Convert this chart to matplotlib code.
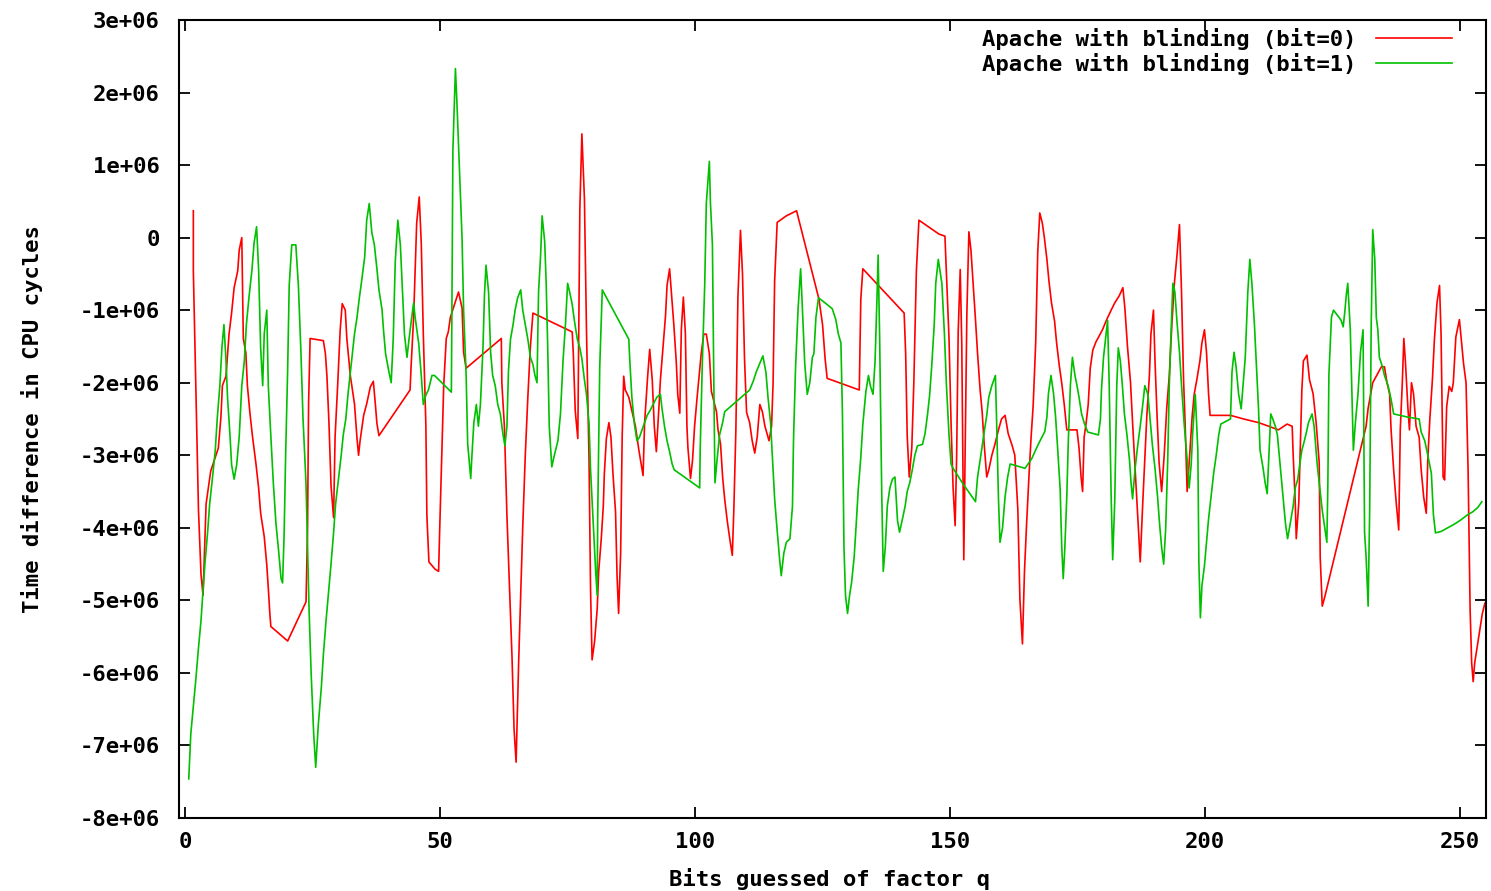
import numpy as np
import matplotlib
matplotlib.use("Agg")
import matplotlib.pyplot as plt
from matplotlib.ticker import FuncFormatter, MultipleLocator

# Bit index, values in units of 1e6 CPU cycles
red_x = [1.6, 1.6, 2.1, 2.6, 3.1, 3.5, 4.1, 5.0, 6.5, 7.0, 7.3, 8.0, 8.6, 9.1, 9.6,
         10.3, 10.6, 11.1, 11.4, 11.9, 12.2, 12.7, 13.2, 13.9, 14.4, 14.8, 15.5, 16.0,
         16.3, 16.6, 16.8, 20.1, 23.7, 24.0, 24.2, 24.5, 27.1, 27.5, 27.8, 28.2, 28.6,
         29.1, 29.4, 29.9, 30.4, 30.8, 31.4, 31.7, 32.4, 33.2, 33.7, 34.0, 34.3, 35.0,
         35.6, 36.3, 36.9, 37.3, 37.6, 38.0, 44.1, 44.3, 44.8, 45.1, 45.4, 45.9, 46.3,
         46.7, 47.2, 47.4, 47.8, 49.0, 49.7, 49.9, 50.3, 50.7, 51.2, 51.6, 52.0, 53.6,
         54.3, 54.6, 55.1, 62.0, 62.1, 62.6, 63.1, 63.6, 64.1, 64.5, 64.9, 65.4, 65.8,
         66.2, 66.7, 67.2, 67.7, 68.2, 75.9, 76.1, 76.5, 77.0, 77.4, 77.8, 78.3, 78.7,
         79.2, 79.5, 79.8, 80.3, 80.8, 81.1, 81.6, 82.0, 82.2, 82.6, 83.1, 83.5, 83.9,
         84.4, 84.7, 85.0, 85.4, 85.7, 86.0, 86.3, 87.0, 88.3, 89.0, 89.8, 90.1, 90.7,
         91.1, 91.6, 92.0, 92.4, 92.9, 93.2, 93.7, 94.2, 94.5, 95.0, 95.8, 96.3, 96.6,
         97.0, 97.3, 97.7, 98.1, 98.4, 98.6, 99.1, 99.5, 99.9, 100.4, 100.8, 101.2,
         101.7, 102.2, 102.8, 103.2, 104.2, 104.5, 105.0, 105.4, 105.8, 106.3, 106.8,
         107.3, 107.6, 108.0, 108.4, 108.9, 109.3, 109.7, 110.1, 110.7, 111.2, 111.7,
         112.2, 112.7, 113.2, 113.7, 114.5, 115.0, 115.3, 115.6, 116.1, 117.9, 119.9,
         124.3, 125.0, 125.5, 125.9, 132.2, 132.5, 132.9, 141.0, 141.3, 141.6, 142.0,
         142.5, 142.9, 143.4, 143.9, 147.8, 149.0, 149.3, 149.8, 150.2, 150.6, 151.0,
         151.3, 151.6, 152.0, 152.3, 152.7, 153.3, 153.7, 154.1, 154.6, 155.0, 155.4,
         155.9, 156.3, 156.7, 157.2, 157.6, 158.2, 158.8, 159.5, 160.1, 160.8, 161.4,
         162.2, 162.7, 163.3, 163.7, 164.2, 164.6, 165.0, 165.5, 165.9, 166.3, 166.8,
         167.2, 167.6, 168.1, 168.5, 169.0, 169.4, 169.9, 170.5, 170.9, 171.4, 171.9,
         172.4, 172.9, 174.9, 175.3, 175.7, 176.0, 176.3, 176.7, 177.1, 177.5, 178.0,
         178.6, 179.9, 180.6, 181.6, 182.3, 183.2, 183.9, 184.3, 184.8, 185.4, 185.8,
         186.3, 186.7, 187.1, 187.3, 187.8, 188.2, 188.6, 189.1, 189.4, 189.9, 190.2,
         190.6, 191.0, 191.5, 192.0, 192.5, 193.0, 193.5, 194.0, 194.5, 195.0, 195.4,
         195.8, 196.1, 196.5, 196.9, 197.5, 197.9, 198.4, 199.0, 199.4, 199.9, 200.3,
         200.7, 201.0, 205.0, 207.6, 210.5, 212.5, 214.4, 216.1, 217.1, 217.3, 217.7,
         217.9, 218.4, 218.7, 219.0, 219.3, 220.0, 220.5, 221.2, 221.8, 222.4, 222.6,
         223.0, 223.5, 231.6, 232.0, 232.9, 234.6, 235.2, 235.7, 236.2, 236.5, 237.0,
         237.5, 238.0, 238.3, 238.7, 239.0, 239.3, 239.8, 240.1, 240.5, 240.9, 241.4,
         242.0, 242.4, 242.9, 243.4, 243.7, 244.1, 244.6, 245.0, 245.5, 246.0, 246.3,
         246.7, 247.0, 247.4, 247.9, 248.4, 248.7, 249.2, 249.9, 250.7, 251.2, 251.6,
         252.0, 252.3, 252.6, 252.9, 253.9, 254.4, 254.9]
red_y = [0.37, -0.46, -2.08, -3.74, -4.64, -4.93, -3.67, -3.22, -2.9, -2.48, -2.04,
         -1.91, -1.33, -1.04, -0.69, -0.46, -0.17, 0.0, -1.39, -1.59, -2.04, -2.42, -2.74,
         -3.13, -3.45, -3.8, -4.12, -4.51, -4.83, -5.18, -5.36, -5.56, -5.02, -4.0, -2.29,
         -1.39, -1.42, -1.6, -1.91, -2.56, -3.42, -3.86, -2.74, -2.04, -1.27, -0.91, -1.0,
         -1.39, -1.91, -2.29, -2.77, -3.0, -2.8, -2.45, -2.29, -2.06, -1.98, -2.3, -2.56,
         -2.73, -2.1, -1.78, -1.1, -0.43, 0.2, 0.56, -0.08, -1.33, -2.58, -3.83, -4.47,
         -4.57, -4.6, -4.06, -3.04, -2.04, -1.39, -1.3, -1.1, -0.75, -0.97, -1.58, -1.8,
         -1.39, -2.0, -2.6, -3.83, -4.8, -5.79, -6.78, -7.23, -5.85, -4.9, -3.99, -3.0,
         -2.2, -1.5, -1.04, -1.3, -1.57, -2.39, -2.77, 0.4, 1.43, 0.53, -1.27, -3.06,
         -4.86, -5.82, -5.56, -5.12, -4.6, -4.15, -3.7, -3.26, -2.77, -2.55, -2.75, -3.26,
         -3.78, -4.67, -5.18, -4.35, -2.75, -1.91, -2.1, -2.2, -2.6, -2.94, -3.28, -2.55,
         -1.91, -1.54, -1.96, -2.6, -2.95, -2.35, -1.96, -1.52, -1.08, -0.66, -0.43, -1.17,
         -1.7, -2.16, -2.42, -1.27, -0.82, -1.33, -2.6, -2.9, -3.32, -3.07, -2.6, -2.2,
         -1.9, -1.6, -1.33, -1.33, -1.6, -2.12, -2.4, -2.65, -2.85, -3.3, -3.6, -3.9,
         -4.15, -4.38, -3.75, -2.65, -0.82, 0.1, -0.5, -1.68, -2.41, -2.55, -2.8, -2.97,
         -2.74, -2.3, -2.4, -2.6, -2.8, -2.6, -2.0, -0.6, 0.21, 0.3, 0.37, -0.85, -1.2,
         -1.67, -1.94, -2.1, -0.85, -0.43, -1.04, -1.6, -2.73, -3.3, -2.9, -2.0, -0.46,
         0.24, 0.05, 0.02, -0.5, -1.39, -2.55, -3.45, -3.97, -3.0, -1.3, -0.44, -1.45,
         -4.44, -1.05, 0.08, -0.17, -0.7, -1.14, -1.6, -2.1, -2.4, -2.85, -3.3, -3.2,
         -3.0, -2.85, -2.65, -2.5, -2.45, -2.7, -2.87, -3.0, -3.75, -4.98, -5.6, -4.6,
         -3.97, -3.26, -2.75, -2.32, -1.45, -0.2, 0.34, 0.2, 0.0, -0.3, -0.6, -0.9, -1.15,
         -1.45, -1.75, -2.0, -2.3, -2.65, -2.65, -2.9, -3.3, -3.5, -2.75, -2.55, -2.3,
         -1.8, -1.55, -1.44, -1.27, -1.15, -1.0, -0.9, -0.8, -0.69, -0.98, -1.5, -2.0,
         -2.55, -3.2, -3.7, -4.2, -4.47, -3.65, -3.05, -2.45, -1.9, -1.33, -1.0, -1.7,
         -2.45, -3.1, -3.5, -3.0, -2.35, -1.9, -1.2, -0.63, -0.25, 0.18, -0.75, -1.96,
         -2.55, -3.5, -3.1, -2.45, -2.15, -1.96, -1.7, -1.45, -1.27, -1.58, -2.15, -2.45,
         -2.45, -2.5, -2.55, -2.6, -2.65, -2.57, -2.6, -3.0, -3.65, -4.15, -3.65, -2.85,
         -2.1, -1.7, -1.62, -1.96, -2.15, -2.55, -3.1, -4.41, -5.08, -4.95, -2.6, -2.35,
         -2.0, -1.78, -1.78, -2.0, -2.15, -2.65, -3.2, -3.65, -4.03, -2.65, -2.0, -1.39,
         -1.7, -2.35, -2.65, -2.0, -2.15, -2.6, -2.75, -3.2, -3.58, -3.8, -3.05, -2.5,
         -1.96, -1.4, -0.9, -0.66, -1.33, -3.3, -3.34, -2.33, -2.05, -2.12, -2.0, -1.37,
         -1.13, -1.73, -2.0, -3.2, -5.13, -5.86, -6.12, -5.86, -5.4, -5.18, -5.04]

green_x = [0.7, 1.1, 1.6, 2.1, 2.6, 3.1, 3.5, 3.9, 4.4, 4.8, 5.4, 5.9, 6.3, 6.8, 7.2,
           7.6, 8.0, 8.3, 8.8, 9.1, 9.6, 10.1, 10.6, 11.1, 11.6, 12.0, 12.5, 13.1, 13.5,
           14.0, 14.4, 14.8, 15.2, 15.5, 16.0, 16.3, 16.8, 17.3, 17.8, 18.3, 18.8, 19.1,
           19.4, 19.7, 20.1, 20.4, 20.9, 21.7, 22.2, 22.7, 23.1, 23.7, 24.3, 24.7, 25.2,
           25.6, 26.1, 26.7, 27.1, 27.6, 28.1, 28.6, 29.1, 29.5, 30.1, 30.6, 31.0, 31.5,
           31.9, 32.4, 32.8, 33.2, 33.7, 34.1, 34.6, 35.2, 35.6, 36.1, 36.6, 37.1, 37.6,
           38.0, 38.6, 38.9, 39.3, 39.9, 40.4, 40.8, 41.2, 41.7, 42.2, 42.6, 43.0, 43.5,
           43.9, 44.3, 44.8, 45.1, 45.8, 46.3, 46.7, 47.2, 47.7, 48.4, 48.9, 52.2, 52.3,
           52.5, 53.0, 53.3, 53.8, 54.3, 54.6, 55.1, 55.4, 56.0, 56.2, 56.6, 57.1, 57.5,
           57.9, 58.4, 58.7, 59.0, 59.5, 59.9, 60.3, 60.8, 61.3, 61.8, 62.3, 62.7, 63.1,
           63.4, 63.8, 64.3, 64.7, 65.2, 65.8, 66.2, 66.7, 67.2, 67.7, 68.2, 68.6, 69.0,
           69.3, 69.7, 70.0, 70.5, 70.8, 71.1, 71.4, 71.9, 72.4, 73.1, 73.6, 74.1, 74.6,
           75.0, 75.4, 75.9, 76.3, 76.9, 77.4, 77.8, 78.3, 78.7, 79.2, 79.5, 80.0, 80.5,
           80.8, 80.9, 81.3, 81.8, 87.0, 87.2, 87.6, 88.1, 88.6, 89.1, 89.6, 90.1, 90.6,
           91.2, 91.9, 92.5, 93.2, 93.5, 94.0, 94.5, 95.0, 95.5, 95.9, 100.9, 101.0, 101.4,
           101.9, 102.2, 102.8, 103.0, 103.4, 103.7, 103.9, 104.3, 104.8, 105.4, 105.8,
           110.7, 111.4, 112.0, 112.7, 113.3, 113.9, 114.3, 114.8, 115.2, 115.6, 116.1,
           116.6, 116.9, 117.4, 117.9, 118.6, 119.1, 119.3, 119.7, 120.2, 120.7, 121.0,
           121.5, 122.0, 122.5, 123.0, 123.3, 123.7, 124.2, 125.5, 126.9, 127.6, 128.1,
           128.6, 128.9, 129.2, 129.5, 129.9, 130.3, 130.7, 131.2, 131.6, 132.0, 132.5,
           132.9, 133.5, 134.0, 134.4, 134.9, 135.3, 135.7, 135.9, 136.2, 136.6, 136.9,
           137.3, 137.7, 138.2, 138.7, 139.2, 139.7, 140.1, 140.6, 141.2, 141.6, 142.1,
           142.6, 143.1, 143.6, 144.6, 145.1, 145.6, 146.0, 146.4, 146.9, 147.2, 147.7,
           148.4, 148.9, 149.3, 149.8, 150.2, 150.6, 152.6, 155.0, 155.4, 155.9, 156.3,
           156.7, 157.2, 157.6, 158.2, 158.9, 159.1, 159.5, 159.8, 160.3, 160.8, 161.3,
           161.8, 164.7, 166.0, 167.3, 168.6, 169.0, 169.3, 169.8, 170.3, 170.7, 171.1,
           171.6, 171.9, 172.2, 172.5, 172.9, 173.2, 173.6, 174.0, 174.5, 174.9, 175.3,
           175.8, 176.3, 177.0, 179.1, 179.5, 179.7, 180.1, 180.6, 180.9, 181.2, 181.6,
           181.9, 182.3, 182.7, 183.0, 183.4, 183.8, 184.2, 184.7, 185.2, 185.5, 185.8,
           186.3, 186.8, 187.3, 187.8, 188.2, 188.8, 189.3, 189.7, 190.2, 190.7, 191.1,
           191.5, 191.9, 192.3, 192.7, 193.0, 193.3, 193.7, 194.1, 194.5, 195.0, 195.4,
           195.9, 196.5, 196.9, 197.3, 197.6, 198.1, 198.6, 198.8, 199.1, 199.4, 199.9,
           200.3, 200.7, 201.2, 201.7, 202.2, 202.7, 203.1, 205.0, 205.3, 205.7, 206.1,
           206.6, 207.1, 207.4, 207.9, 208.4, 208.8, 209.2, 209.7, 210.1, 210.5, 210.8,
           211.4, 211.8, 212.2, 212.5, 212.9, 213.3, 213.8, 214.2, 214.8, 215.3, 215.8,
           216.2, 216.7, 217.3, 217.7, 218.2, 218.6, 219.0, 219.5, 219.9, 220.3, 221.0,
           221.4, 222.0, 222.6, 223.0, 223.5, 223.9, 224.1, 224.3, 224.8, 225.2, 226.3,
           226.7, 227.1, 227.4, 227.7, 228.0, 228.5, 228.9, 229.1, 229.5, 230.0, 230.5,
           231.0, 231.3, 231.6, 232.0, 232.3, 232.6, 232.9, 233.3, 233.6, 233.9, 234.2,
           234.8, 235.2, 235.9, 236.5, 237.0, 239.5, 242.0, 242.4, 243.1, 243.7, 244.4,
           244.8, 245.2, 246.3, 247.6, 248.9, 250.2, 251.5, 252.5, 253.5, 254.3]
green_y = [-7.46, -6.84, -6.46, -6.08, -5.66, -5.28, -4.86, -4.47, -4.06, -3.67, -3.28,
           -2.93, -2.48, -2.04, -1.52, -1.2, -1.69, -2.2, -2.74, -3.13, -3.33, -3.13,
           -2.74, -2.04, -1.7, -1.2, -0.83, -0.44, -0.08, 0.15, -0.44, -1.52, -2.04,
           -1.33, -1.0, -2.04, -2.74, -3.4, -3.94, -4.3, -4.7, -4.76, -4.1, -3.0, -1.8,
           -0.66, -0.1, -0.1, -0.66, -1.58, -2.48, -3.4, -5.14, -6.0, -6.84, -7.3, -6.72,
           -6.2, -5.75, -5.3, -4.9, -4.5, -4.07, -3.67, -3.3, -3.0, -2.72, -2.5, -2.18,
           -1.85, -1.6, -1.33, -1.1, -0.86, -0.6, -0.27, 0.24, 0.47, 0.07, -0.1, -0.43,
           -0.72, -0.99, -1.28, -1.6, -1.83, -2.0, -1.4, -0.33, 0.24, -0.1, -0.72, -1.33,
           -1.65, -1.4, -1.17, -0.9, -1.1, -1.46, -1.9, -2.3, -2.17, -2.1, -1.9, -1.9,
           -2.13, -1.1, 1.2, 2.33, 1.85, 0.92, -0.01, -1.0, -1.9, -2.84, -3.32, -3.05,
           -2.56, -2.3, -2.6, -2.3, -1.52, -0.78, -0.38, -0.75, -1.58, -1.9, -2.04, -2.3,
           -2.43, -2.7, -2.87, -2.6, -1.84, -1.4, -1.2, -1.0, -0.83, -0.72, -1.0, -1.2,
           -1.4, -1.65, -1.75, -1.9, -2.0, -0.75, -0.25, 0.3, -0.05, -0.63, -1.52, -2.6,
           -3.16, -3.0, -2.8, -2.43, -1.7, -1.17, -0.63, -0.75, -0.92, -1.13, -1.4, -1.52,
           -1.67, -1.96, -2.16, -2.56, -3.2, -3.9, -4.6, -4.93, -3.85, -1.78, -0.72, -1.4,
           -1.7, -2.2, -2.57, -2.8, -2.75, -2.65, -2.55, -2.45, -2.38, -2.28, -2.2, -2.16,
           -2.35, -2.6, -2.8, -2.95, -3.12, -3.2, -3.45, -2.93, -1.78, -0.62, 0.47, 1.05,
           0.5, -0.1, -2.17, -3.38, -3.07, -2.72, -2.55, -2.4, -2.1, -1.98, -1.85, -1.73,
           -1.63, -1.86, -2.2, -2.55, -3.07, -3.6, -4.04, -4.45, -4.66, -4.35, -4.2, -4.15,
           -3.7, -2.8, -1.8, -0.98, -0.43, -0.9, -1.73, -2.16, -2.0, -1.65, -1.6, -1.1,
           -0.83, -0.9, -0.98, -1.13, -1.33, -1.45, -2.43, -4.27, -4.93, -5.18, -4.93,
           -4.75, -4.4, -3.95, -3.47, -3.03, -2.57, -2.12, -1.9, -2.05, -2.16, -1.7, -0.77,
           -0.24, -1.4, -3.5, -4.6, -4.27, -3.7, -3.45, -3.33, -3.3, -3.9, -4.06, -3.9,
           -3.7, -3.5, -3.38, -3.2, -3.0, -2.87, -2.85, -2.7, -2.43, -2.17, -1.78, -1.2,
           -0.63, -0.3, -0.63, -1.33, -2.04, -2.72, -3.12, -3.18, -3.4, -3.64, -3.3, -3.07,
           -2.87, -2.68, -2.45, -2.2, -2.04, -1.9, -2.43, -3.6, -4.2, -4.0, -3.57, -3.3,
           -3.12, -3.18, -3.05, -2.85, -2.67, -2.47, -2.15, -1.9, -2.15, -2.47, -2.9, -3.47,
           -4.25, -4.7, -4.3, -3.57, -2.8, -2.04, -1.65, -1.9, -2.04, -2.2, -2.43, -2.55,
           -2.68, -2.72, -2.5, -2.1, -1.65, -1.33, -1.14, -1.97, -3.57, -4.44, -3.64, -2.04,
           -1.52, -1.7, -2.04, -2.43, -2.72, -3.07, -3.38, -3.6, -3.18, -2.87, -2.6, -2.3,
           -2.04, -2.16, -2.55, -2.87, -3.18, -3.57, -3.95, -4.27, -4.5, -4.0, -3.05, -2.04,
           -1.4, -0.63, -0.75, -1.15, -1.58, -2.04, -2.55, -3.05, -3.45, -3.12, -2.68,
           -2.16, -2.93, -4.47, -5.24, -4.8, -4.52, -4.2, -3.88, -3.57, -3.25, -3.0, -2.72,
           -2.57, -2.5, -1.85, -1.58, -1.78, -2.16, -2.36, -2.1, -1.65, -0.75, -0.3, -0.63,
           -1.2, -1.78, -2.36, -2.93, -3.18, -3.38, -3.53, -3.05, -2.43, -2.5, -2.6, -2.72,
           -3.18, -3.57, -3.95, -4.15, -3.95, -3.7, -3.45, -3.33, -3.12, -2.93, -2.8, -2.68,
           -2.55, -2.43, -2.6, -3.12, -3.5, -3.76, -4.0, -4.2, -3.4, -1.9, -1.1, -1.0,
           -1.1, -1.14, -1.23, -1.04, -0.8, -0.63, -1.27, -2.36, -2.93, -2.55, -2.16, -1.58,
           -1.27, -4.07, -4.4, -5.08, -3.76, -1.2, 0.11, -0.3, -1.1, -1.27, -1.65, -1.78,
           -1.9, -2.04, -2.23, -2.43, -2.47, -2.5, -2.68, -2.8, -3.0, -3.25, -3.82, -4.07,
           -4.05, -4.0, -3.95, -3.89, -3.82, -3.78, -3.72, -3.64]

red_label = "Apache with blinding (bit=0)"
green_label = "Apache with blinding (bit=1)"

plt.rcParams['font.family'] = 'DejaVu Sans Mono'
plt.rcParams['font.weight'] = 'bold'
plt.rcParams['font.size'] = 16

fig = plt.figure(figsize=(14.91, 8.91), dpi=100)
ax = fig.add_axes([0.1201, 0.0819, 0.8765, 0.8957])

ax.plot(red_x, np.array(red_y) * 1e6, color='#ff0000', lw=1.2, label=red_label)
ax.plot(green_x, np.array(green_y) * 1e6, color='#00c000', lw=1.2, label=green_label)

ax.set_xlim(-1.2, 255.1)
ax.set_ylim(-8e6, 3e6)
ax.xaxis.set_major_locator(MultipleLocator(50))
ax.yaxis.set_major_locator(MultipleLocator(1e6))
ax.yaxis.set_major_formatter(FuncFormatter(lambda v, p: '%g' % v))
ax.tick_params(direction='in', length=8, width=1.3, top=True, right=True)
ax.tick_params(axis='y', pad=14)
ax.tick_params(axis='x', pad=10)
for s in ax.spines.values():
    s.set_linewidth(1.5)

ax.set_xlabel('Bits guessed of factor q', fontweight='bold')
ax.set_ylabel('Time difference in CPU cycles', fontweight='bold')
ax.xaxis.set_label_coords(0.498, -0.062)
ax.yaxis.set_label_coords(-0.104, 0.5)

ax.legend(loc='upper right', bbox_to_anchor=(0.974, 0.99), markerfirst=False,
          frameon=False, handlelength=3.4, handletextpad=0.9, borderpad=0,
          borderaxespad=0, labelspacing=0.15)

fig.savefig('out.png', dpi=100)
